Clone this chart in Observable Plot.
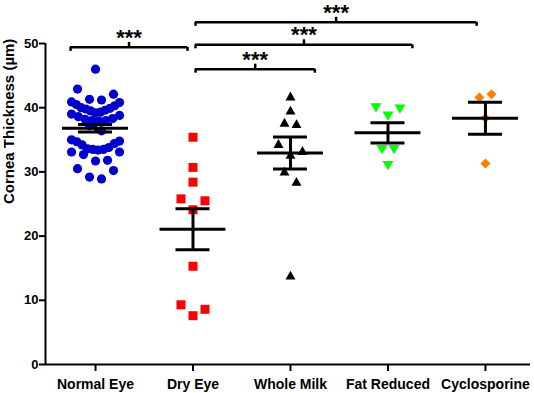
<!DOCTYPE html>
<html>
<head>
<meta charset="utf-8">
<script src="https://cdn.jsdelivr.net/npm/d3@7"></script>
<script src="https://cdn.jsdelivr.net/npm/@observablehq/plot@0.6"></script>
<style>
  html, body { margin: 0; padding: 0; background: #fff; }
  #chart svg { display: block; }
</style>
</head>
<body>
<div id="chart"></div>
<script>
// ---------------- data ----------------
const groups = ["Normal Eye", "Dry Eye", "Whole Milk", "Fat Reduced", "Cyclosporine"];
const normalEye = [46.0, 42.9, 42.1, 41.3, 41.2, 40.9, 40.8, 40.5, 40.3, 40.0, 39.9, 39.8, 39.6, 39.5,
  39.3, 39.2, 39.0, 38.8, 38.6, 38.3, 38.2, 38.0, 38.0, 37.9, 37.2, 36.4, 35.0, 34.8, 34.7, 34.4,
  34.2, 33.8, 33.6, 33.5, 33.5, 33.4, 33.1, 33.1, 32.7, 31.8, 31.7, 30.5, 30.2, 29.2, 28.9];
const dryEye = [35.4, 30.7, 28.4, 25.8, 25.5, 24.1, 15.3, 9.3, 8.6, 7.6];
const wholeMilk = [41.8, 39.6, 37.7, 37.5, 34.4, 33.3, 32.7, 30.1, 28.5, 13.9];
const fatReduced = [40.0, 39.8, 38.7, 33.5, 33.5, 31.0];
const cyclosporine = [41.6, 42.1, 38.4, 31.3];
const yTicks = [0, 10, 20, 30, 40, 50];
const yLabel = "Cornea Thickness (µm)";

// significance brackets
const compFrom = ["Normal Eye", "Dry Eye", "Dry Eye", "Dry Eye"];
const compTo = ["Dry Eye", "Whole Milk", "Fat Reduced", "Cyclosporine"];
const compLevel = [49.4, 46.0, 49.8, 53.3];
const compLabel = ["***", "***", "***", "***"];

// ---------------- styling / layout ----------------
const series = [normalEye, dryEye, wholeMilk, fatReduced, cyclosporine];
const colors = ["#0000CC", "#FF0000", "#000000", "#00FF00", "#FF8000"];
const W = 534, H = 393;
const mL = 45, mR = 4, mT = 43, mB = 29;
const xDomain = [-0.513, 4.462];
const pxX = (W - mL - mR) / (xDomain[1] - xDomain[0]);
const pxY = (H - mT - mB) / 50;

// custom symbols (size = pi r^2 -> L = sqrt(size))
const sym = {
  circle: "circle",
  square: {draw(c, s) { const L = Math.sqrt(s); c.rect(-L/2, -L/2, L, L); }},
  triUp: {draw(c, s) { const L = Math.sqrt(s); c.moveTo(0, -L*0.48); c.lineTo(L*0.52, L*0.45); c.lineTo(-L*0.52, L*0.45); c.closePath(); }},
  triDown: {draw(c, s) { const L = Math.sqrt(s); c.moveTo(0, L*0.48); c.lineTo(L*0.55, -L*0.45); c.lineTo(-L*0.55, -L*0.45); c.closePath(); }},
  diamond: {draw(c, s) { const L = Math.sqrt(s) * 0.55; c.moveTo(0, -L); c.lineTo(L, 0); c.lineTo(0, L); c.lineTo(-L, 0); c.closePath(); }}
};
const symbols = [sym.circle, sym.square, sym.triUp, sym.triDown, sym.diamond];
const radii = [4.6, 5.08, 5.4, 5.6, 5.2];

// row-based scatter arrangement (like the column scatter layout)
const binPx = 11.5, stepPx = 12, maxHalfPx = 24;
function arrange(values, gi) {
  const sorted = values.map((v, k) => ({v, k})).sort((a, b) => b.v - a.v);
  const rows = [];
  for (const p of sorted) {
    const row = rows[rows.length - 1];
    if (row && (row[0].v - p.v) * pxY < binPx) row.push(p); else rows.push([p]);
  }
  const out = [];
  for (const row of rows) {
    row.sort((a, b) => a.k - b.k);
    const n = row.length;
    const step = n > 1 ? Math.min(stepPx, 2 * maxHalfPx / (n - 1)) : 0;
    const slots = d3.range(n).map(j => j - (n - 1) / 2)
      .sort((a, b) => Math.abs(b) - Math.abs(a) || a - b);
    row.forEach((p, j) => out.push({gi, value: p.v, x: gi + slots[j] * step / pxX}));
  }
  return out;
}
const points = series.map((vals, gi) => arrange(vals, gi));

const stats = series.map((vals, gi) => {
  const m = d3.mean(vals);
  const sem = d3.deviation(vals) / Math.sqrt(vals.length);
  return {gi, mean: m, lo: m - sem, hi: m + sem};
});

const brackets = compFrom.map((f, k) => {
  const a = groups.indexOf(f), b = groups.indexOf(compTo[k]);
  const x1 = a === 0 ? a - 0.256 : a + 0.026;
  const x2 = b === 1 ? b - 0.056 : (b === 4 ? b - 0.09 : b + 0.25);
  return {x1, x2, xm: (x1 + x2) / 2, y: compLevel[k], label: compLabel[k]};
});
const bracketEnds = brackets.flatMap(b => [{x: b.x1, y: b.y}, {x: b.x2, y: b.y}]);

const font = "'Liberation Sans', Arial, Helvetica, sans-serif";
const meanHalf = 33 / pxX, capHalf = 17 / pxX;
const tickDown = 4 / pxY, tickUp = 5 / pxY;

const marks = [
  // dots
  ...points.map((pts, gi) => Plot.dot(pts, {
    x: "x", y: "value", r: radii[gi], symbol: symbols[gi], fill: colors[gi], stroke: "none"
  })),
  // mean & SEM
  Plot.ruleY(stats, {y: "mean", x1: d => d.gi - meanHalf, x2: d => d.gi + meanHalf, strokeWidth: 3, stroke: "#000"}),
  Plot.ruleY(stats, {y: "hi", x1: d => d.gi - capHalf, x2: d => d.gi + capHalf, strokeWidth: 3, stroke: "#000"}),
  Plot.ruleY(stats, {y: "lo", x1: d => d.gi - capHalf, x2: d => d.gi + capHalf, strokeWidth: 3, stroke: "#000"}),
  Plot.ruleX(stats, {x: "gi", y1: "lo", y2: "hi", strokeWidth: 3, stroke: "#000"}),
  // axes
  Plot.axisY({ticks: yTicks, tickSize: 6, tickPadding: 1, fontSize: 13, fontWeight: "bold", label: null, strokeWidth: 2}),
  Plot.axisX({ticks: d3.range(groups.length), tickFormat: i => groups[i], tickSize: 7, tickPadding: 8,
    fontSize: 14, fontWeight: "bold", label: null, strokeWidth: 2}),
  Plot.ruleX([xDomain[0]], {y1: 0, y2: 50, strokeWidth: 2, stroke: "#000"}),
  Plot.ruleY([0], {strokeWidth: 2, stroke: "#000"}),
  Plot.text([yLabel], {frameAnchor: "left", rotate: -90, dx: -36, text: d => d, fontSize: 15, fontWeight: "bold", fill: "#000"}),
  // brackets
  Plot.ruleY(brackets, {y: "y", x1: "x1", x2: "x2", strokeWidth: 2.5, stroke: "#000"}),
  Plot.ruleX(bracketEnds, {x: "x", y1: "y", y2: d => d.y - tickDown, strokeWidth: 2.5, stroke: "#000"}),
  Plot.ruleX(brackets, {x: "xm", y1: "y", y2: d => d.y + tickUp, strokeWidth: 2.5, stroke: "#000"}),
  Plot.text(brackets, {x: "xm", y: "y", text: "label", dy: -9.5, fontSize: 22, fontWeight: "bold", fill: "#000"})
];

const chart = Plot.plot({
  width: W, height: H,
  marginLeft: mL, marginRight: mR, marginTop: mT, marginBottom: mB,
  style: {fontFamily: font, background: "#fff", color: "#000", overflow: "visible"},
  x: {type: "linear", domain: xDomain, axis: null},
  y: {domain: [0, 50], axis: null},
  marks
});
document.getElementById("chart").appendChild(chart);
</script>
</body>
</html>
